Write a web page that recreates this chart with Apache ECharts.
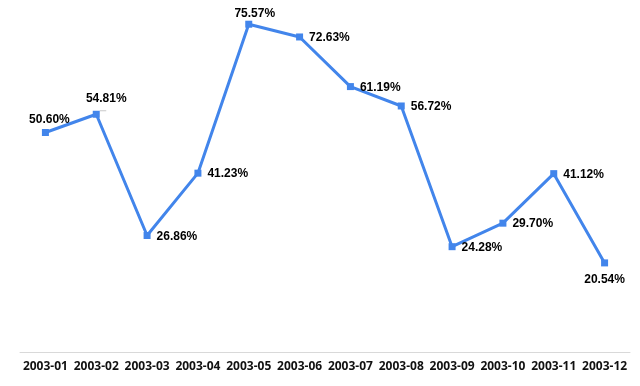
<!DOCTYPE html>
<html><head><meta charset="utf-8">
<script src="https://cdn.jsdelivr.net/npm/echarts@6/dist/echarts.min.js"></script>
<style>html,body{margin:0;padding:0;background:#fff}#c{width:640px;height:386px}</style>
</head><body><div id="c"></div>
<script>
const categories = ['2003-01','2003-02','2003-03','2003-04','2003-05','2003-06','2003-07','2003-08','2003-09','2003-10','2003-11','2003-12'];
const values = [50.60, 54.81, 26.86, 41.23, 75.57, 72.63, 61.19, 56.72, 24.28, 29.70, 41.12, 20.54];

const labelPos = ['top','top','right','right','top','right','right','right','right','right','right','bottom'];
const labelOffset = [[4,3],[10,0],[0,1],[0,1],[6,5],[0,1],[0,1],[0,1],[0,1],[0,1],[0,1],[0,1]];

const chart = echarts.init(document.getElementById('c'), null, {renderer:'canvas'});
chart.setOption({
  animation:false,
  grid:{left:20,right:10,top:5,bottom:34,containLabel:false},
  xAxis:{type:'category',data:categories,boundaryGap:true,
    axisLine:{lineStyle:{color:'#d9d9d9',width:1}},axisTick:{show:false},
    axisLabel:{color:'#111',fontWeight:'bold',fontSize:12,fontFamily:'Open Sans, Liberation Sans, sans-serif',margin:9,interval:0}},
  yAxis:{type:'value',min:0,max:80,show:false,splitLine:{show:false}},
  series:[{type:'line',
    data:values.map((v,i)=>({value:v,
      label:{position:labelPos[i],offset:labelOffset[i]},
      labelLine:{show:i===1,lineStyle:{color:'#c8c8c8',width:1}}})),
    symbol:'rect',symbolSize:7,
    lineStyle:{color:'#4285eb',width:3},
    itemStyle:{color:'#4285eb'},
    label:{show:true,distance:6,color:'#000',fontWeight:'bold',fontSize:12,fontFamily:'Liberation Sans, Arial, sans-serif',
      formatter:p=>p.value.toFixed(2)+'%'}
  }]
});
</script></body></html>
